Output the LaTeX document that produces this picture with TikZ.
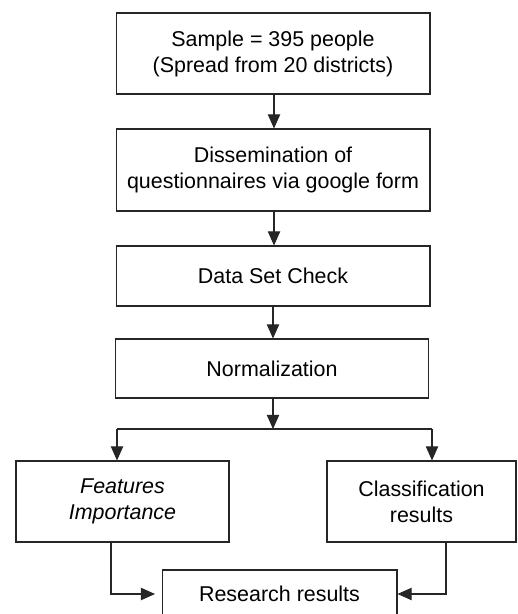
\documentclass[tikz,border=0pt]{standalone}
\usepackage{fontspec}
\setmainfont{Liberation Sans}
\usepackage{tikz}
\usetikzlibrary{positioning,arrows.meta}

\begin{document}
\begin{tikzpicture}[x=0.02cm,y=-0.02cm,
	box/.style={draw=black!85,line width=0.6pt,rectangle,align=center,inner sep=0pt,
		font=\fontsize{12.2}{14.8}\selectfont},
	flow/.style={draw=black!85,line width=0.6pt,-{Triangle[length=8pt,width=7pt]}}]
		\useasboundingbox (0,0) rectangle (517,614);
		\clip (0,0) rectangle (517,614);

		%main column
		\node[box,minimum width=6.28cm,minimum height=1.62cm] (n1) at (273,53.5) {Sample = 395 people\\(Spread from 20 districts)};
		\node[box,minimum width=6.28cm,minimum height=1.64cm] (n2) at (273,170) {Dissemination of\\questionnaires via google form};
		\node[box,minimum width=6.28cm,minimum height=1.2cm] (n3) at (273,276) {Data Set Check};
		\node[box,minimum width=6.26cm,minimum height=1.18cm] (n4) at (272,368.5) {Normalization};

		%branch nodes
		\node[box,minimum width=4.26cm,minimum height=1.62cm] (n5) at (122.5,501.5) {\itshape Features\\\itshape Importance};
		\node[box,minimum width=3.78cm,minimum height=1.62cm] (n6) at (421.5,501.5) {Classification\\results};
		\node[box,minimum width=4.7cm,minimum height=0.96cm] (n7) at (279.5,594) {Research results};

		%split points
		\coordinate (a1) at (274,94);
		\coordinate (a2) at (274,211);
		\coordinate (a3) at (273,306);
		\coordinate (s0) at (273,429);
		\coordinate (s1) at (117,429);
		\coordinate (s2) at (432,429);
		\coordinate (d1) at (111,542);
		\coordinate (d2) at (446,542);
		\coordinate (m1) at (155,594);

		%edges
		\draw[flow] (a1) -- (n2.north -| a1);
		\draw[flow] (a2) -- (n3.north -| a2);
		\draw[flow] (a3) -- (n4.north -| a3);
		\draw[flow] (n4.south -| s0) -- (s0);
		\draw[draw=black!85,line width=0.6pt] (s1) -- (s2);
		\draw[flow] (s1) -- (n5.north -| s1);
		\draw[flow] (s2) -- (n6.north -| s2);
		\draw[flow] (d1) |- (m1);
		\draw[flow] (d2) |- (n7.east);
	\end{tikzpicture}
\end{document}
